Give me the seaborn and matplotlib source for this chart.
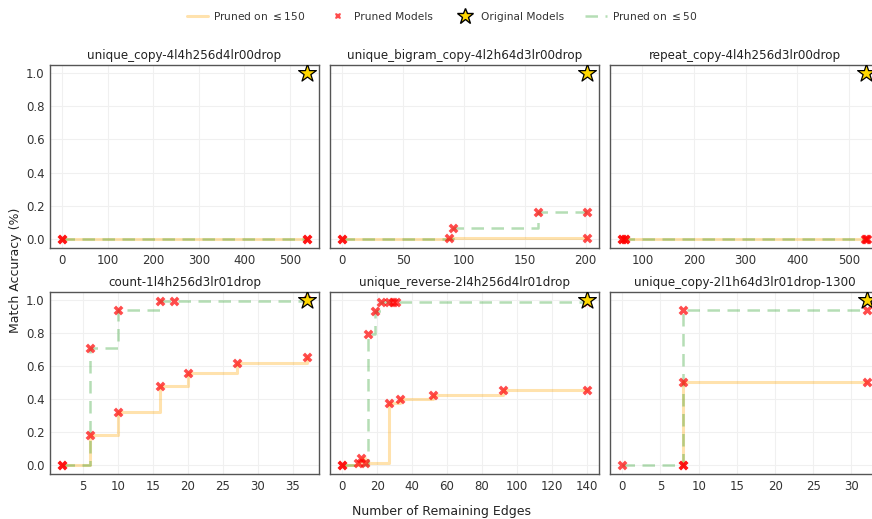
import numpy as np
import pandas as pd
import matplotlib
matplotlib.use("Agg")
import matplotlib.pyplot as plt
import seaborn as sns
from matplotlib.lines import Line2D
from matplotlib.ticker import MultipleLocator

titles = [
    "unique_copy-4l4h256d4lr00drop",
    "unique_bigram_copy-4l2h64d3lr00drop",
    "repeat_copy-4l4h256d3lr00drop",
    "count-1l4h256d3lr01drop",
    "unique_reverse-2l4h256d4lr01drop",
    "unique_copy-2l1h64d3lr01drop-1300",
]

# Pruned on <=150 (orange) series
p150_x = [
    [0, 537],
    [0, 88, 201],
    [61, 66, 534],
    [2, 6, 10, 16, 20, 27, 37],
    [0, 9, 11, 13, 27, 33, 52, 92, 140],
    [8, 8, 32],
]
p150_y = [
    [0.0, 0.0],
    [0.0, 0.005, 0.008],
    [0.0, 0.0, 0.0],
    [0.0, 0.183, 0.321, 0.478, 0.556, 0.618, 0.653],
    [0.0, 0.012, 0.042, 0.012, 0.378, 0.398, 0.424, 0.452, 0.454],
    [0.0, 0.504, 0.504],
]

# Pruned on <=50 (green) series
p50_x = [
    [0, 537],
    [0, 91, 161, 201],
    [61, 66, 531, 535],
    [2, 6, 10, 16, 18, 37],
    [0, 15, 19, 22, 27, 29, 31, 140],
    [0, 8, 8, 32],
]
p50_y = [
    [0.0, 0.0],
    [0.0, 0.064, 0.163, 0.163],
    [0.0, 0.0, 0.0, 0.0],
    [0.0, 0.707, 0.94, 0.996, 0.996, 1.0],
    [0.0, 0.795, 0.934, 0.985, 0.99, 0.99, 0.99, 0.99],
    [0.0, 0.0, 0.936, 0.936],
]

# Original models (star)
orig_x = [537, 201, 534, 37, 140, 32]
orig_y = [1.0, 1.0, 1.0, 1.0, 1.0, 1.0]

x_steps = [100, 50, 100, 5, 20, 5]

sns.set_theme(style="whitegrid")
plt.rcParams.update({
    "font.family": ["DejaVu Sans"],
    "axes.edgecolor": "#555555",
    "axes.linewidth": 1.0,
    "grid.color": "#f0f0f0",
    "grid.linewidth": 0.8,
    "xtick.color": "#333333",
    "ytick.color": "#333333",
    "text.color": "#333333",
    "axes.labelcolor": "#333333",
})

W, H = 872, 519
fig = plt.figure(figsize=(W / 100, H / 100), dpi=100)

lefts = [50, 330, 610]
rows = [(65, 248), (292, 474)]
aw = 269

axes = []
for r, (top, bot) in enumerate(rows):
    for c, lx in enumerate(lefts):
        ax = fig.add_axes([lx / W, 1 - bot / H, aw / W, (bot - top) / H])
        axes.append(ax)

orange = "#FFA500"
green = "#2ca02c"

for i, ax in enumerate(axes):
    d150 = pd.DataFrame({"x": p150_x[i], "y": p150_y[i]})
    d50 = pd.DataFrame({"x": p50_x[i], "y": p50_y[i]})
    sns.lineplot(data=d150, x="x", y="y", ax=ax, color=orange, alpha=0.32,
                 linewidth=2.2, drawstyle="steps-post", estimator=None, sort=True)
    sns.lineplot(data=d50, x="x", y="y", ax=ax, color=green, alpha=0.35,
                 linewidth=1.8, linestyle=(0, (5, 3)), drawstyle="steps-post",
                 estimator=None, sort=True)
    pts = pd.concat([d150, d50])
    sns.scatterplot(data=pts, x="x", y="y", ax=ax, marker="X", color="red",
                    alpha=0.7, s=50, linewidth=0, zorder=3)
    dorig = pd.DataFrame({"x": [orig_x[i]], "y": [orig_y[i]]})
    sns.scatterplot(data=dorig, x="x", y="y", ax=ax, marker="*", color="gold",
                    edgecolor="black", linewidth=0.9, s=180, zorder=4)
    ax.set_title(titles[i], fontsize=8.6, color="#222222", pad=4)
    ax.set_xlabel("")
    ax.set_ylabel("")
    ax.set_ylim(-0.054, 1.048)
    ax.xaxis.set_major_locator(MultipleLocator(x_steps[i]))
    ax.set_yticks([0.0, 0.2, 0.4, 0.6, 0.8, 1.0])
    if i % 3 == 0:
        ax.set_yticklabels(["0.0", "0.2", "0.4", "0.6", "0.8", "1.0"])
    else:
        ax.set_yticklabels([])
    ax.tick_params(labelsize=8.5, length=0, pad=4)
    for s in ax.spines.values():
        s.set_visible(True)
        s.set_color("#555555")

fig.text(441 / W, 1 - 512 / H, "Number of Remaining Edges", ha="center", va="center",
         fontsize=9, color="#222222")
fig.text(15 / W, 1 - 270 / H, "Match Accuracy (%)", ha="center", va="center",
         rotation=90, fontsize=9, color="#222222")

handles = [
    Line2D([], [], color=orange, alpha=0.32, linewidth=2.2),
    Line2D([], [], marker="X", color="red", alpha=0.7, linestyle="none", markersize=5,
           markeredgewidth=0),
    Line2D([], [], marker="*", color="gold", markeredgecolor="black", linestyle="none",
           markersize=12),
    Line2D([], [], color=green, alpha=0.35, linewidth=1.8, linestyle=(0, (5, 3))),
]
labels = ["Pruned on $\\leq 150$", "Pruned Models", "Original Models", "Pruned on $\\leq 50$"]
fig.legend(handles, labels, loc="center", bbox_to_anchor=(442 / W, 1 - 16 / H), ncol=4,
           frameon=False, fontsize=7.7, handlelength=2.0, handletextpad=0.5,
           columnspacing=2.0)

fig.savefig("out.png", dpi=100)
